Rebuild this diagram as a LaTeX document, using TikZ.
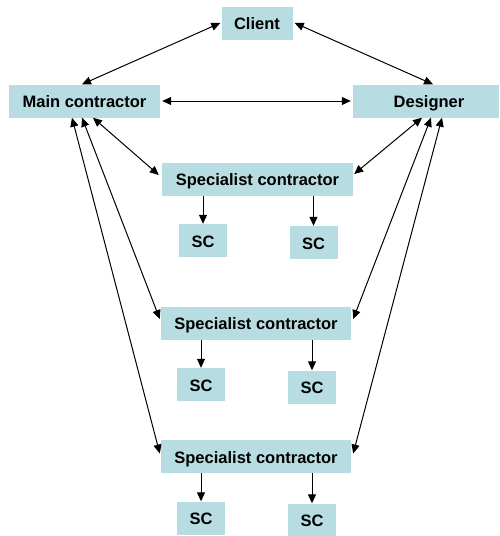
\documentclass[tikz,border=0pt]{standalone}
\usepackage{fontspec}
\setmainfont{Liberation Sans}
\usetikzlibrary{arrows.meta}
\definecolor{boxfill}{RGB}{183,221,226}
\begin{document}
\begin{tikzpicture}[x=1pt,y=-1pt,
  box/.style={fill=boxfill,draw=none,inner sep=0pt,minimum height=33pt,
    text height=13pt,text depth=0pt,
    font=\fontsize{16.5}{18}\selectfont\bfseries},
  link/.style={line width=1pt,{Triangle[length=9pt,width=8pt]}-{Triangle[length=9pt,width=8pt]}},
  down/.style={line width=1pt,-{Triangle[length=9pt,width=8pt]}}]
\useasboundingbox (0,0) rectangle (499,536);
\fill[white] (0,0) rectangle (499,536);

% parties
\node[box,minimum width=71pt] (client) at (257,23) {Client};
\node[box,minimum width=151pt] (main) at (84.5,101) {Main contractor};
\node[box,minimum width=146pt] (designer) at (426,101) {\hspace*{6pt}Designer};

% specialist contractors and their sub-contractors
\node[box,minimum width=191pt] (spec1) at (257.5,179) {Specialist contractor};
\node[box,minimum width=48pt] (sc1a) at (203,240.5) {SC};
\node[box,minimum width=48pt] (sc1b) at (313.5,242.5) {SC};

\node[box,minimum width=190pt] (spec2) at (256,323) {Specialist contractor};
\node[box,minimum width=48pt] (sc2a) at (201,384.5) {SC};
\node[box,minimum width=48pt] (sc2b) at (312,387) {SC};

\node[box,minimum width=190pt] (spec3) at (256,456.5) {Specialist contractor};
\node[box,minimum width=48pt] (sc3a) at (201,518) {SC};
\node[box,minimum width=48pt] (sc3b) at (312,520) {SC};

% two-way links between the parties
\draw[link] ([xshift=-1pt]client.west) -- ([xshift=-2.5pt]main.north);
\draw[link] ([xshift=2pt]client.east) -- ([xshift=7pt]designer.north);
\draw[link] ([xshift=2pt]main.east) -- ([xshift=-2pt]designer.west);

\draw[link] ([xshift=8.5pt]main.south) -- ([xshift=-3pt,yshift=4pt]spec1.west);
\draw[link] ([xshift=-2.5pt]main.south) -- ([xshift=-1pt,yshift=4pt]spec2.west);
\draw[link] ([xshift=-12.5pt]main.south) -- ([xshift=-1pt,yshift=3pt]spec3.west);

\draw[link] ([xshift=-4pt]designer.south) -- ([xshift=1pt,yshift=5pt]spec1.east);
\draw[link] ([xshift=5pt]designer.south) -- ([xshift=2pt,yshift=4pt]spec2.east);
\draw[link] ([xshift=16pt]designer.south) -- ([xshift=2pt,yshift=3pt]spec3.east);

% one-way links down to the sub-contractors
\draw[down] (spec1.south -| sc1a) -- (sc1a.north);
\draw[down] (spec1.south -| sc1b) -- (sc1b.north);
\draw[down] (spec2.south -| sc2a) -- (sc2a.north);
\draw[down] (spec2.south -| sc2b) -- (sc2b.north);
\draw[down] (spec3.south -| sc3a) -- (sc3a.north);
\draw[down] (spec3.south -| sc3b) -- (sc3b.north);
\end{tikzpicture}
\end{document}
